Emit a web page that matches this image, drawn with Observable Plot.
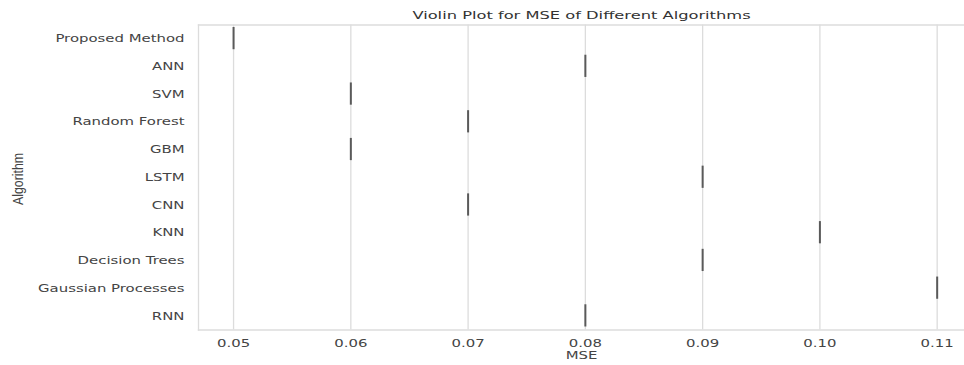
<!DOCTYPE html>
<html>
<head>
<meta charset="utf-8">
<script src="https://cdn.jsdelivr.net/npm/d3@7"></script>
<script src="https://cdn.jsdelivr.net/npm/@observablehq/plot@0.6"></script>
<style>
  html, body { margin: 0; padding: 0; background: #fff; }
  #chart svg { display: block; }
</style>
</head>
<body>
<div id="chart"></div>
<script>
const algorithms = ["Proposed Method", "ANN", "SVM", "Random Forest", "GBM", "LSTM", "CNN", "KNN", "Decision Trees", "Gaussian Processes", "RNN"];
const mseValues = [0.05, 0.08, 0.06, 0.07, 0.06, 0.09, 0.07, 0.10, 0.09, 0.11, 0.08];
const xTicks = [0.05, 0.06, 0.07, 0.08, 0.09, 0.10, 0.11];
const xDomain = [0.04701, 0.11233];
const titleText = "Violin Plot for MSE of Different Algorithms";
const xLabel = "MSE";
const yLabel = "Algorithm";

const data = algorithms.map((a, i) => ({algorithm: a, mse: mseValues[i]}));

const gridColor = "#dcdcdc";
const textColor = "#444";

const chart = Plot.plot({
  width: 964,
  height: 365,
  marginLeft: 198,
  marginRight: 0,
  marginTop: 24.5,
  marginBottom: 35.5,
  style: {fontFamily: "DejaVu Sans", fontSize: "10.5px", color: textColor, background: "#fff"},
  x: {domain: xDomain, ticks: xTicks},
  y: {domain: algorithms, padding: 0, round: false},
  marks: [
    Plot.gridX(xTicks, {stroke: gridColor, strokeOpacity: 1, strokeWidth: 1.3}),
    Plot.frame({anchor: "top", stroke: gridColor, strokeWidth: 1.3}),
    Plot.frame({anchor: "bottom", stroke: gridColor, strokeWidth: 1.3}),
    Plot.frame({anchor: "left", stroke: gridColor, strokeWidth: 1.3}),
    Plot.tickX(data, {x: "mse", y: "algorithm", stroke: "#5a5a5a", strokeWidth: 2, insetTop: 2.5, insetBottom: 3}),
    Plot.axisY({tickSize: 0, tickPadding: 14, label: null, fill: textColor}),
    Plot.axisX(xTicks, {tickSize: 0, tickPadding: 10, tickFormat: d3.format(".2f"), label: null, fill: textColor}),
    Plot.text([titleText], {frameAnchor: "top", dy: -13.5, fill: "#333", fontSize: 11, className: "sx-title"}),
    Plot.text([xLabel], {frameAnchor: "bottom", dy: 29, fill: textColor, fontSize: 10.5}),
    Plot.text([yLabel], {frameAnchor: "left", dx: -179.5, dy: 1.5, rotate: -90, textAnchor: "middle", lineAnchor: "middle", fill: textColor, fontSize: 14, fontFamily: "Liberation Sans", className: "ylab"})
  ]
});

document.getElementById("chart").appendChild(chart);

// emulate the horizontally stretched text of the reference (scale in x only, about the anchor x)
d3.select(chart).selectAll("text").each(function() {
  const el = this;
  const t = el.getAttribute("transform") || "";
  if (el.closest(".ylab")) {
    // condensed rotated label: squeeze along the text direction
    el.setAttribute("transform", `${t} scale(0.88,1)`.trim());
    return;
  }
  const isTitle = !!el.closest(".sx-title");
  const sx = isTitle ? 1.48 : 1.42;
  let x = parseFloat(el.getAttribute("x"));
  if (!isFinite(x)) x = 0;
  el.setAttribute("transform", `${t} translate(${x},0) scale(${sx},1) translate(${-x},0)`.trim());
});
</script>
</body>
</html>
